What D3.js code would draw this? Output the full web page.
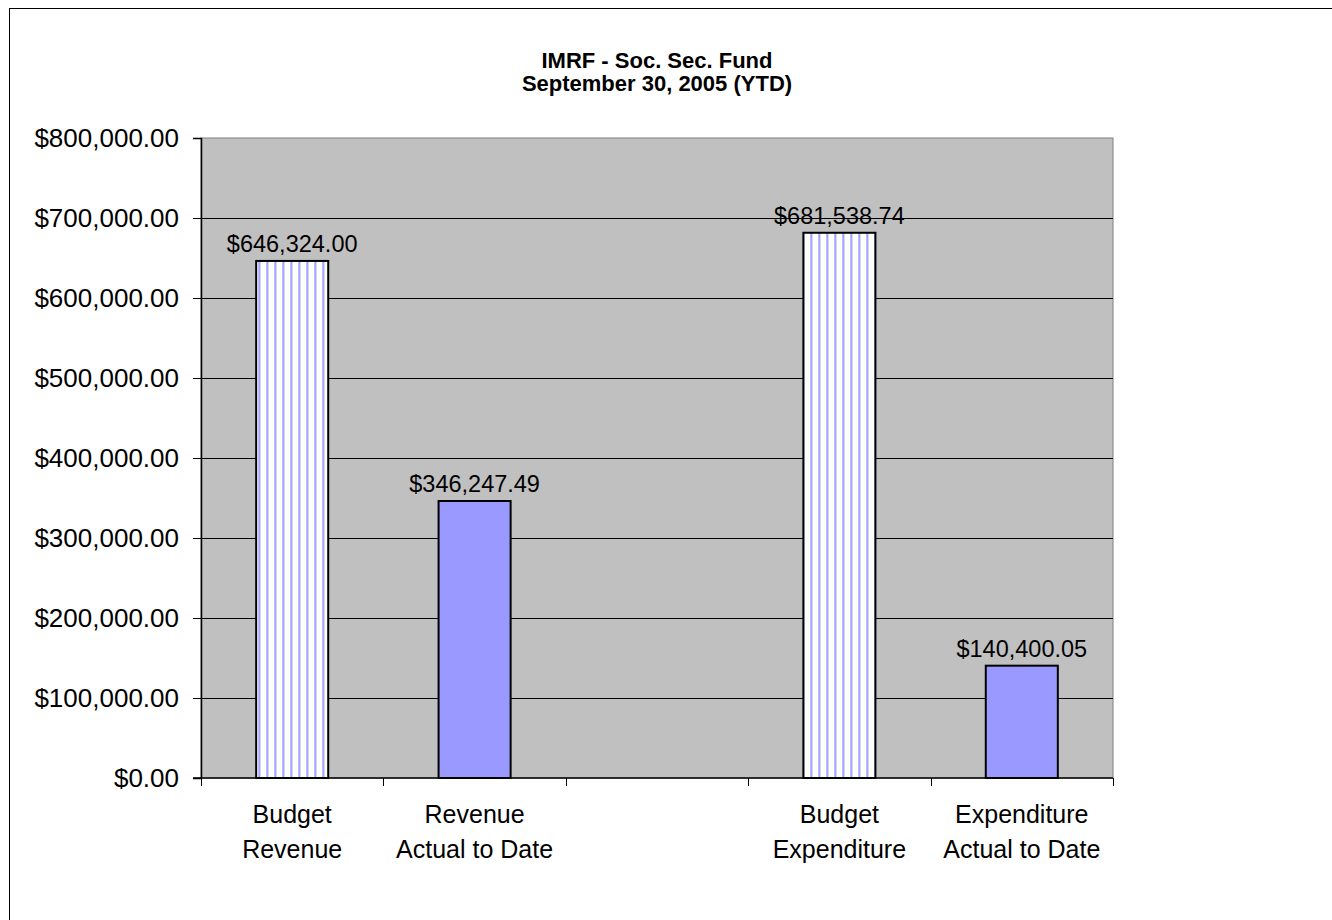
<!DOCTYPE html>
<html>
<head>
<meta charset="utf-8">
<script src="https://cdn.jsdelivr.net/npm/d3@7"></script>
<style>
  body { margin: 0; background: #fff; }
  svg { display: block; font-family: "Liberation Sans", Arial, sans-serif; }
</style>
</head>
<body>
<div id="chart"></div>
<script>
// data
const categories = ["Budget Revenue", "Revenue Actual to Date", "", "Budget Expenditure", "Expenditure Actual to Date"];
const labelLines = [["Budget", "Revenue"], ["Revenue", "Actual to Date"], [], ["Budget", "Expenditure"], ["Expenditure", "Actual to Date"]];
const values = [646324.00, 346247.49, null, 681538.74, 140400.05];
const striped = [true, false, false, true, false];
const yTicks = [0, 100000, 200000, 300000, 400000, 500000, 600000, 700000, 800000];
const titleLines = ["IMRF - Soc. Sec. Fund", "September 30, 2005 (YTD)"];

const W = 1332, H = 920;
const plot = {left: 201, top: 138, right: 1113, bottom: 778};

const svg = d3.select("#chart").append("svg")
  .attr("width", W)
  .attr("height", H);

// stripe pattern for budget bars
const defs = svg.append("defs");
const pat = defs.append("pattern")
  .attr("id", "stripes")
  .attr("patternUnits", "userSpaceOnUse")
  .attr("width", 8).attr("height", 8);
pat.append("rect").attr("width", 8).attr("height", 8).attr("fill", "#ffffff");
pat.append("rect").attr("x", 2).attr("width", 3).attr("height", 8).attr("fill", "#d4d4ff");
pat.append("rect").attr("x", 2.5).attr("width", 1.5).attr("height", 8).attr("fill", "#a6a6ff");

// outer chart border
svg.append("rect")
  .attr("x", 9.5).attr("y", 8.5)
  .attr("width", 1400).attr("height", 1000)
  .attr("fill", "none")
  .attr("stroke", "#000")
  .attr("stroke-width", 1);

const x = d3.scaleBand()
  .domain(d3.range(categories.length))
  .range([plot.left, plot.right])
  .padding(0);

const y = d3.scaleLinear()
  .domain([0, 800000])
  .range([plot.bottom, plot.top]);

// plot background
svg.append("rect")
  .attr("x", plot.left).attr("y", plot.top)
  .attr("width", plot.right - plot.left)
  .attr("height", plot.bottom - plot.top)
  .attr("fill", "#c0c0c0")
  .attr("stroke", "#808080")
  .attr("stroke-width", 1);

// gridlines
svg.append("g")
  .selectAll("line")
  .data(yTicks.filter(d => d > 0 && d < 800000))
  .join("line")
    .attr("x1", plot.left).attr("x2", plot.right)
    .attr("y1", d => Math.round(y(d)) + 0.5)
    .attr("y2", d => Math.round(y(d)) + 0.5)
    .attr("stroke", "#000")
    .attr("stroke-width", 1);

// bars
const barW = x.bandwidth() * 0.395;
svg.append("g")
  .selectAll("rect")
  .data(values.map((v, i) => ({v, i})).filter(d => d.v !== null))
  .join("rect")
    .attr("x", d => x(d.i) + (x.bandwidth() - barW) / 2)
    .attr("y", d => y(d.v))
    .attr("width", barW)
    .attr("height", d => y(0) - y(d.v))
    .attr("fill", d => striped[d.i] ? "url(#stripes)" : "#9999ff")
    .attr("stroke", "#000")
    .attr("stroke-width", 2);

// value labels
const fmt = d3.format("$,.2f");
svg.append("g")
  .selectAll("text")
  .data(values.map((v, i) => ({v, i})).filter(d => d.v !== null))
  .join("text")
    .attr("x", d => x(d.i) + x.bandwidth() / 2)
    .attr("y", d => y(d.v) - 9)
    .attr("text-anchor", "middle")
    .attr("font-size", 23.5)
    .attr("fill", "#000")
    .text(d => fmt(d.v));

// y axis
const yAxis = svg.append("g")
  .attr("transform", `translate(${plot.left},0)`)
  .call(d3.axisLeft(y).tickValues(yTicks).tickSize(8).tickPadding(14).tickFormat(fmt));
yAxis.select(".domain").attr("stroke", "#000").attr("stroke-width", 1.5);
yAxis.selectAll("text").attr("font-size", 26).attr("font-family", "Liberation Sans, Arial, sans-serif").attr("fill", "#000");

// x axis
const xAxisG = svg.append("g");
xAxisG.append("line")
  .attr("x1", plot.left - 8).attr("x2", plot.right)
  .attr("y1", plot.bottom).attr("y2", plot.bottom)
  .attr("stroke", "#000").attr("stroke-width", 1.5);
xAxisG.selectAll("line.tick")
  .data(d3.range(categories.length + 1))
  .join("line")
    .attr("class", "tick")
    .attr("x1", i => Math.round(i < categories.length ? x(i) : plot.right) + 0.5)
    .attr("x2", i => Math.round(i < categories.length ? x(i) : plot.right) + 0.5)
    .attr("y1", plot.bottom).attr("y2", plot.bottom + 8)
    .attr("stroke", "#000");

const catText = xAxisG.selectAll("text")
  .data(labelLines)
  .join("text")
    .attr("x", (d, i) => x(i) + x.bandwidth() / 2)
    .attr("y", 823)
    .attr("text-anchor", "middle")
    .attr("font-size", 25)
    .attr("fill", "#000");
catText.selectAll("tspan")
  .data(d => d)
  .join("tspan")
    .attr("x", function() { return d3.select(this.parentNode).attr("x"); })
    .attr("dy", (d, j) => j === 0 ? 0 : 35)
    .text(d => d);

// title
svg.append("g")
  .selectAll("text")
  .data(titleLines)
  .join("text")
    .attr("x", (plot.left + plot.right) / 2)
    .attr("y", (d, i) => 68 + i * 23)
    .attr("text-anchor", "middle")
    .attr("font-size", 22)
    .attr("font-weight", "bold")
    .attr("fill", "#000")
    .text(d => d);
</script>
</body>
</html>
